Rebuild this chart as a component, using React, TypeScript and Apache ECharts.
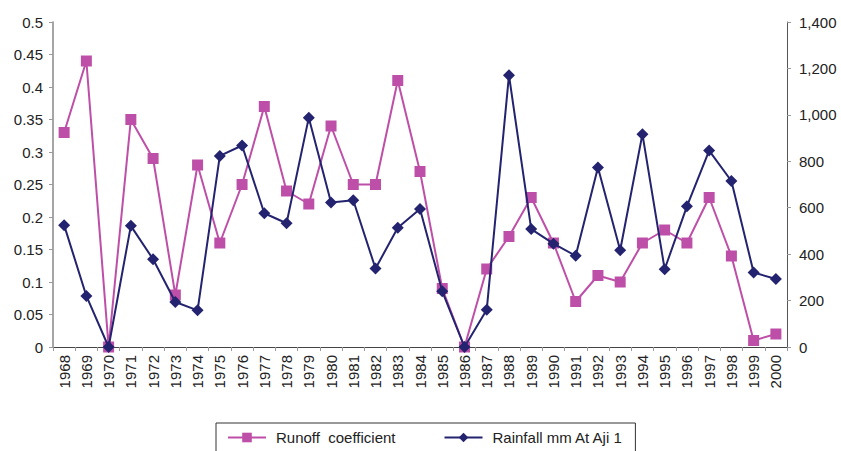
import React, { useEffect, useRef } from "react";
import * as echarts from "echarts";

const years = [
  "1968", "1969", "1970", "1971", "1972", "1973", "1974", "1975", "1976", "1977", "1978",
  "1979", "1980", "1981", "1982", "1983", "1984", "1985", "1986", "1987", "1988", "1989",
  "1990", "1991", "1992", "1993", "1994", "1995", "1996", "1997", "1998", "1999", "2000",
];

const runoffCoefficient = [
  0.33, 0.44, 0, 0.35, 0.29, 0.08, 0.28, 0.16, 0.25, 0.37, 0.24,
  0.22, 0.34, 0.25, 0.25, 0.41, 0.27, 0.09, 0, 0.12, 0.17, 0.23,
  0.16, 0.07, 0.11, 0.1, 0.16, 0.18, 0.16, 0.23, 0.14, 0.01, 0.02,
];

const rainfallMm = [
  525, 220, 0, 522, 378, 194, 158, 823, 868, 576, 533,
  988, 622, 632, 338, 514, 594, 240, 0, 160, 1171, 508,
  445, 393, 773, 417, 917, 335, 606, 846, 715, 321, 293,
];

const FONT = "Liberation Sans, Arial, sans-serif";
const PINK = "#BE4FA8";
const NAVY = "#23236F";

export default function App() {
  const ref = useRef<HTMLDivElement>(null);

  useEffect(() => {
    document.body.style.margin = "0";
    if (!ref.current) return;
    const chart = echarts.init(ref.current, undefined, { renderer: "svg" });
    chart.setOption({
      animation: false,
      backgroundColor: "#ffffff",
      textStyle: { fontFamily: FONT },
      grid: { left: 53, right: 54, top: 22, bottom: 104, containLabel: false },
      legend: {
        top: 423,
        left: 216,
        width: 409,
        padding: [7, 12, 10, 11],
        itemGap: 48,
        itemWidth: 38,
        itemHeight: 12,
        borderColor: "#333",
        borderWidth: 1,
        textStyle: { fontFamily: FONT, fontSize: 15, color: "#222", padding: [0, 0, 0, 5] },
        data: ["Runoff  coefficient", "Rainfall mm At Aji 1"],
      },
      xAxis: [
        {
          type: "category",
          data: years,
          boundaryGap: true,
          axisLine: { lineStyle: { color: "#444", width: 1 } },
          axisTick: { show: true, alignWithLabel: false, length: 4, lineStyle: { color: "#999" } },
          axisLabel: {
            rotate: 90,
            interval: 0,
            fontSize: 15,
            color: "#222",
            fontFamily: FONT,
            margin: 8,
          },
        },
        {
          type: "category",
          data: years,
          position: "top",
          axisLine: { show: true, lineStyle: { color: "#444", width: 1 } },
          axisTick: { show: false },
          axisLabel: { show: false },
        },
      ],
      yAxis: [
        {
          type: "value",
          min: 0,
          max: 0.5,
          interval: 0.05,
          position: "left",
          splitLine: { show: false },
          axisLine: { show: true, lineStyle: { color: "#888", width: 1.5 } },
          axisTick: { show: true, length: 4, lineStyle: { color: "#999" } },
          axisLabel: {
            fontSize: 15,
            color: "#222",
            fontFamily: FONT,
            margin: 10,
            formatter: (v: number) => String(+v.toFixed(2)),
          },
        },
        {
          type: "value",
          min: 0,
          max: 1400,
          interval: 200,
          position: "right",
          splitLine: { show: false },
          axisLine: { show: true, lineStyle: { color: "#555", width: 1 } },
          axisTick: { show: true, length: 4, lineStyle: { color: "#999" } },
          axisLabel: {
            fontSize: 15,
            color: "#222",
            fontFamily: FONT,
            margin: 12,
            formatter: (v: number) => v.toLocaleString("en-US"),
          },
        },
      ],
      series: [
        {
          name: "Runoff  coefficient",
          type: "line",
          yAxisIndex: 0,
          data: runoffCoefficient,
          symbol: "rect",
          symbolSize: 11,
          lineStyle: { color: PINK, width: 2 },
          itemStyle: { color: PINK },
          z: 2,
        },
        {
          name: "Rainfall mm At Aji 1",
          type: "line",
          yAxisIndex: 1,
          data: rainfallMm,
          symbol: "diamond",
          symbolSize: 12,
          lineStyle: { color: NAVY, width: 2 },
          itemStyle: { color: NAVY },
          z: 3,
        },
      ],
    });
    return () => chart.dispose();
  }, []);

  return <div ref={ref} style={{ width: 841, height: 451 }} />;
}
